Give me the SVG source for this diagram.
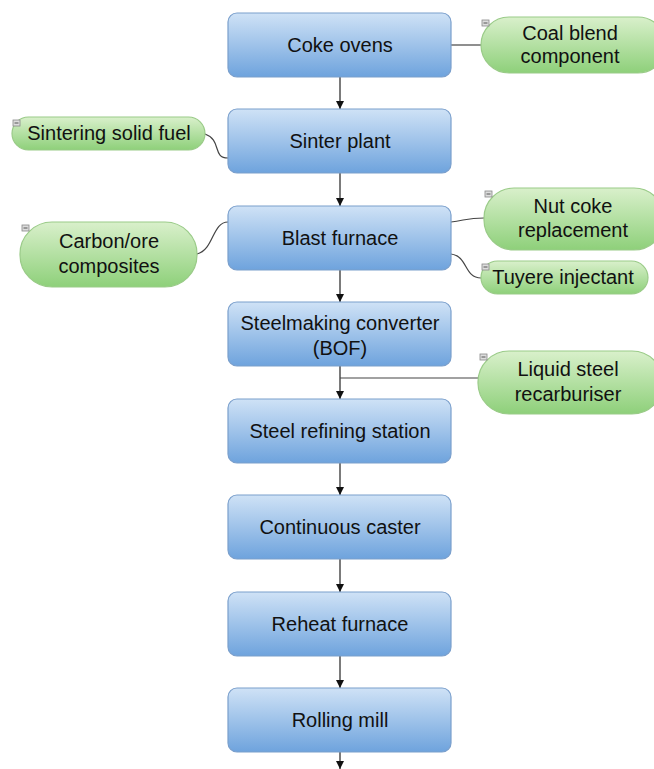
<svg xmlns="http://www.w3.org/2000/svg" width="654" height="769" viewBox="0 0 654 769">
<defs>
<linearGradient id="gb" x1="0" y1="0" x2="0" y2="1">
<stop offset="0" stop-color="#cfe2f6"/>
<stop offset="1" stop-color="#6ea3dd"/>
</linearGradient>
<linearGradient id="gg" x1="0" y1="0" x2="0" y2="1">
<stop offset="0" stop-color="#d9f0cb"/>
<stop offset="1" stop-color="#8ed07a"/>
</linearGradient>
<marker id="ah" viewBox="0 0 8 8" refX="8" refY="4" markerWidth="8" markerHeight="8" markerUnits="userSpaceOnUse" orient="auto">
<path d="M0,0 L8,4 L0,8 Z" fill="#111"/>
</marker>
<style>
.b{fill:url(#gb);stroke:#7a9fcc;stroke-width:1.2}
.g{fill:url(#gg);stroke:#9acb88;stroke-width:1.2}
.t{font-family:"Liberation Sans",Arial,sans-serif;font-size:20px;fill:#111;text-anchor:middle}
.c{fill:none;stroke:#444;stroke-width:1.2}
.a{fill:none;stroke:#222;stroke-width:1.2}
.m{fill:#ddd;stroke:#888;stroke-width:0.8}
.mm{stroke:#555;stroke-width:1}
</style>
</defs>
<rect width="654" height="769" fill="#fff"/>
<g id="connectors">
<line class="a" x1="340" y1="77" x2="340" y2="109" marker-end="url(#ah)"/>
<line class="a" x1="340" y1="173" x2="340" y2="206" marker-end="url(#ah)"/>
<line class="a" x1="340" y1="270" x2="340" y2="302" marker-end="url(#ah)"/>
<line class="a" x1="340" y1="366" x2="340" y2="399" marker-end="url(#ah)"/>
<line class="a" x1="340" y1="463" x2="340" y2="495" marker-end="url(#ah)"/>
<line class="a" x1="340" y1="559" x2="340" y2="592" marker-end="url(#ah)"/>
<line class="a" x1="340" y1="656" x2="340" y2="688" marker-end="url(#ah)"/>
<line class="a" x1="340" y1="752" x2="340" y2="769" marker-end="url(#ah)"/>
<line class="c" x1="451" y1="45" x2="481" y2="45"/>
<path class="c" d="M205,134 C222,140 212,158 228,158"/>
<path class="c" d="M197,254 C214,250 212,222 228,222"/>
<path class="c" d="M451,222 C466,220 468,218 484,218"/>
<path class="c" d="M451,254 C468,256 464,278 481,278"/>
<line class="c" x1="478" y1="378" x2="340" y2="378"/>
</g>
<g id="coke-ovens"><rect class="b" x="228" y="13" width="223" height="64" rx="9"/><text class="t" x="340" y="52">Coke ovens</text></g>
<g id="sinter-plant"><rect class="b" x="228" y="109" width="223" height="64" rx="9"/><text class="t" x="340" y="148">Sinter plant</text></g>
<g id="blast-furnace"><rect class="b" x="228" y="206" width="223" height="64" rx="9"/><text class="t" x="340" y="245">Blast furnace</text></g>
<g id="bof"><rect class="b" x="228" y="302" width="223" height="64" rx="9"/><text class="t" x="340" y="330">Steelmaking converter</text><text class="t" x="340" y="355">(BOF)</text></g>
<g id="steel-refining"><rect class="b" x="228" y="399" width="223" height="64" rx="9"/><text class="t" x="340" y="438">Steel refining station</text></g>
<g id="continuous-caster"><rect class="b" x="228" y="495" width="223" height="64" rx="9"/><text class="t" x="340" y="534">Continuous caster</text></g>
<g id="reheat-furnace"><rect class="b" x="228" y="592" width="223" height="64" rx="9"/><text class="t" x="340" y="631">Reheat furnace</text></g>
<g id="rolling-mill"><rect class="b" x="228" y="688" width="223" height="64" rx="9"/><text class="t" x="340" y="727">Rolling mill</text></g>
<g id="coal-blend"><rect class="g" x="481" y="17" width="185" height="56" rx="28"/><rect class="m" x="482" y="20" width="7" height="6"/><line class="mm" x1="483.5" y1="23" x2="487.5" y2="23"/><text class="t" x="570" y="40">Coal blend</text><text class="t" x="570" y="63">component</text></g>
<g id="sintering-fuel"><rect class="g" x="12" y="117" width="193" height="33" rx="16.5"/><rect class="m" x="13" y="120" width="7" height="6"/><line class="mm" x1="14.5" y1="123" x2="18.5" y2="123"/><text class="t" x="109" y="140">Sintering solid fuel</text></g>
<g id="carbon-ore"><rect class="g" x="20" y="222" width="177" height="65" rx="32"/><rect class="m" x="22" y="225" width="7" height="6"/><line class="mm" x1="23.5" y1="228" x2="27.5" y2="228"/><text class="t" x="109" y="248">Carbon/ore</text><text class="t" x="109" y="273">composites</text></g>
<g id="nut-coke"><rect class="g" x="484" y="188" width="180" height="62" rx="30"/><rect class="m" x="485" y="191" width="7" height="6"/><line class="mm" x1="486.5" y1="194" x2="490.5" y2="194"/><text class="t" x="573" y="213">Nut coke</text><text class="t" x="573" y="237">replacement</text></g>
<g id="tuyere"><rect class="g" x="481" y="261" width="167" height="33" rx="16.5"/><rect class="m" x="482" y="264" width="7" height="6"/><line class="mm" x1="483.5" y1="267" x2="487.5" y2="267"/><text class="t" x="563" y="284">Tuyere injectant</text></g>
<g id="liquid-steel"><rect class="g" x="478" y="351" width="185" height="63" rx="31"/><rect class="m" x="480" y="354" width="7" height="6"/><line class="mm" x1="481.5" y1="357" x2="485.5" y2="357"/><text class="t" x="568" y="376">Liquid steel</text><text class="t" x="568" y="401">recarburiser</text></g>
</svg>
